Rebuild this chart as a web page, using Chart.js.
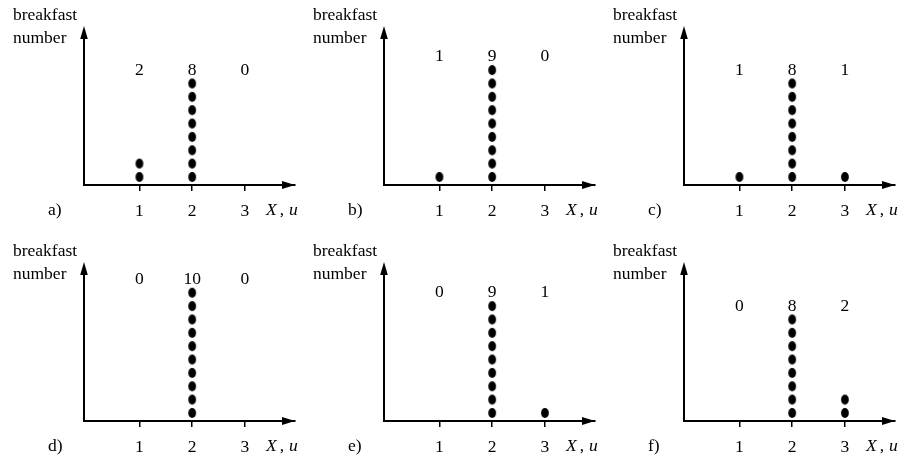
<!DOCTYPE html>
<html>
<head>
<meta charset="utf-8">
<script src="https://cdn.jsdelivr.net/npm/chart.js@4.4.1/dist/chart.umd.min.js"></script>
<style>
  html, body { margin: 0; padding: 0; background: #fff; }
  #wrap { position: relative; width: 906px; height: 462px; overflow: hidden; }
  .panel { position: absolute; width: 300px; height: 230px; }
</style>
</head>
<body>
<div id="wrap"></div>
<script>
// Values of the random variable X and the tick labels on each axis
const xCategories = [1, 2, 3];
const tickValues = [1, 2, 3];

// Number of breakfasts observed at X = 1, 2, 3 in each panel
const countsA = [2, 8, 0];
const countsB = [1, 9, 0];
const countsC = [1, 8, 1];
const countsD = [0, 10, 0];
const countsE = [0, 9, 1];
const countsF = [0, 8, 2];
const panelCounts = [countsA, countsB, countsC, countsD, countsE, countsF];
const panelLetters = ['a)', 'b)', 'c)', 'd)', 'e)', 'f)'];

const yTitleLines = ['breakfast', 'number'];
const xTitleParts = ['X', ',', 'u'];

const FONT = "'Liberation Serif', 'Times New Roman', serif";
const SIZE = 17.5;

// Filled oval used as the marker of a single breakfast
function makeDot() {
  const c = document.createElement('canvas');
  c.width = 10; c.height = 12;
  const g = c.getContext('2d');
  g.fillStyle = '#000';
  g.beginPath();
  g.ellipse(5, 6, 3.9, 5.0, 0, 0, Math.PI * 2);
  g.fill();
  return c;
}
const dot = makeDot();

// One stacked column of dots per category
function stackPoints(counts) {
  const pts = [];
  counts.forEach((n, i) => {
    for (let k = 0; k < n; k++) pts.push({ x: xCategories[i], y: k });
  });
  return pts;
}

// Arrows, axis titles, panel letter and the count printed above each column
const decorations = {
  id: 'decorations',
  afterDraw(chart, args, opts) {
    const ctx = chart.ctx;
    const a = chart.chartArea;
    const xs = chart.scales.x, ys = chart.scales.y;
    const axisY = a.bottom;
    ctx.save();
    ctx.strokeStyle = '#000';
    ctx.fillStyle = '#000';

    // vertical axis
    ctx.lineWidth = 2;
    ctx.beginPath();
    ctx.moveTo(a.left, axisY + 1);
    ctx.lineTo(a.left, a.top + 10);
    ctx.stroke();
    ctx.beginPath();
    ctx.moveTo(a.left, a.top);
    ctx.lineTo(a.left - 3.8, a.top + 13);
    ctx.lineTo(a.left + 3.8, a.top + 13);
    ctx.closePath();
    ctx.fill();

    // horizontal arrow head
    ctx.beginPath();
    ctx.moveTo(a.right, axisY);
    ctx.lineTo(a.right - 13, axisY - 4);
    ctx.lineTo(a.right - 13, axisY + 4);
    ctx.closePath();
    ctx.fill();

    // counts above the columns, level with the tallest one
    const counts = opts.counts;
    const top = Math.max(...counts);
    ctx.font = SIZE + 'px ' + FONT;
    ctx.textAlign = 'center';
    ctx.textBaseline = 'middle';
    counts.forEach((n, i) => {
      ctx.fillText(String(n), xs.getPixelForValue(xCategories[i]), ys.getPixelForValue(top));
    });

    // y-axis title
    ctx.textAlign = 'left';
    ctx.textBaseline = 'alphabetic';
    ctx.fillText(yTitleLines[0], a.left - 71, a.top - 6.5);
    ctx.fillText(yTitleLines[1], a.left - 71, a.top + 16.5);

    // panel letter
    ctx.fillText(opts.letter, a.left - 36, axisY + 30);

    // x-axis title, italic
    ctx.font = 'italic ' + SIZE + 'px ' + FONT;
    let x = a.left + 182;
    ctx.fillText(xTitleParts[0], x, axisY + 30);
    x += ctx.measureText(xTitleParts[0]).width + 3;
    ctx.font = SIZE + 'px ' + FONT;
    ctx.fillText(xTitleParts[1], x, axisY + 30);
    x += ctx.measureText(xTitleParts[1]).width + 5;
    ctx.font = 'italic ' + SIZE + 'px ' + FONT;
    ctx.fillText(xTitleParts[2], x, axisY + 30);
    ctx.restore();
  }
};

const colLeft = [0, 300, 600];
const rowTop = [0, 236];
const wrap = document.getElementById('wrap');

panelCounts.forEach((counts, p) => {
  const holder = document.createElement('div');
  holder.className = 'panel';
  holder.style.left = colLeft[p % 3] + 'px';
  holder.style.top = rowTop[Math.floor(p / 3)] + 'px';
  const cv = document.createElement('canvas');
  holder.appendChild(cv);
  wrap.appendChild(holder);

  new Chart(cv, {
    type: 'scatter',
    data: {
      datasets: [{
        data: stackPoints(counts),
        pointStyle: dot,
        pointRadius: 4,
        pointHoverRadius: 4,
        showLine: false
      }]
    },
    options: {
      responsive: true,
      maintainAspectRatio: false,
      animation: false,
      events: [],
      layout: { padding: { left: 84, right: 4, top: 26, bottom: 0 } },
      plugins: {
        legend: { display: false },
        tooltip: { enabled: false },
        decorations: { counts: counts, letter: panelLetters[p] }
      },
      scales: {
        x: {
          type: 'linear',
          position: 'bottom',
          min: -0.05,
          max: 3.95,
          afterBuildTicks: s => { s.ticks = tickValues.map(v => ({ value: v })); },
          afterFit: s => { s.height = 45; },
          ticks: {
            color: '#000',
            font: { family: FONT, size: SIZE },
            padding: 10,
            maxRotation: 0,
            autoSkip: false
          },
          grid: {
            drawOnChartArea: false,
            drawTicks: true,
            tickLength: 6,
            color: '#000',
            lineWidth: 1.5
          },
          border: { display: true, color: '#000', width: 2 }
        },
        y: {
          type: 'linear',
          min: -0.6,
          max: 11.3,
          display: false
        }
      }
    },
    plugins: [decorations]
  });
});
</script>
</body>
</html>
